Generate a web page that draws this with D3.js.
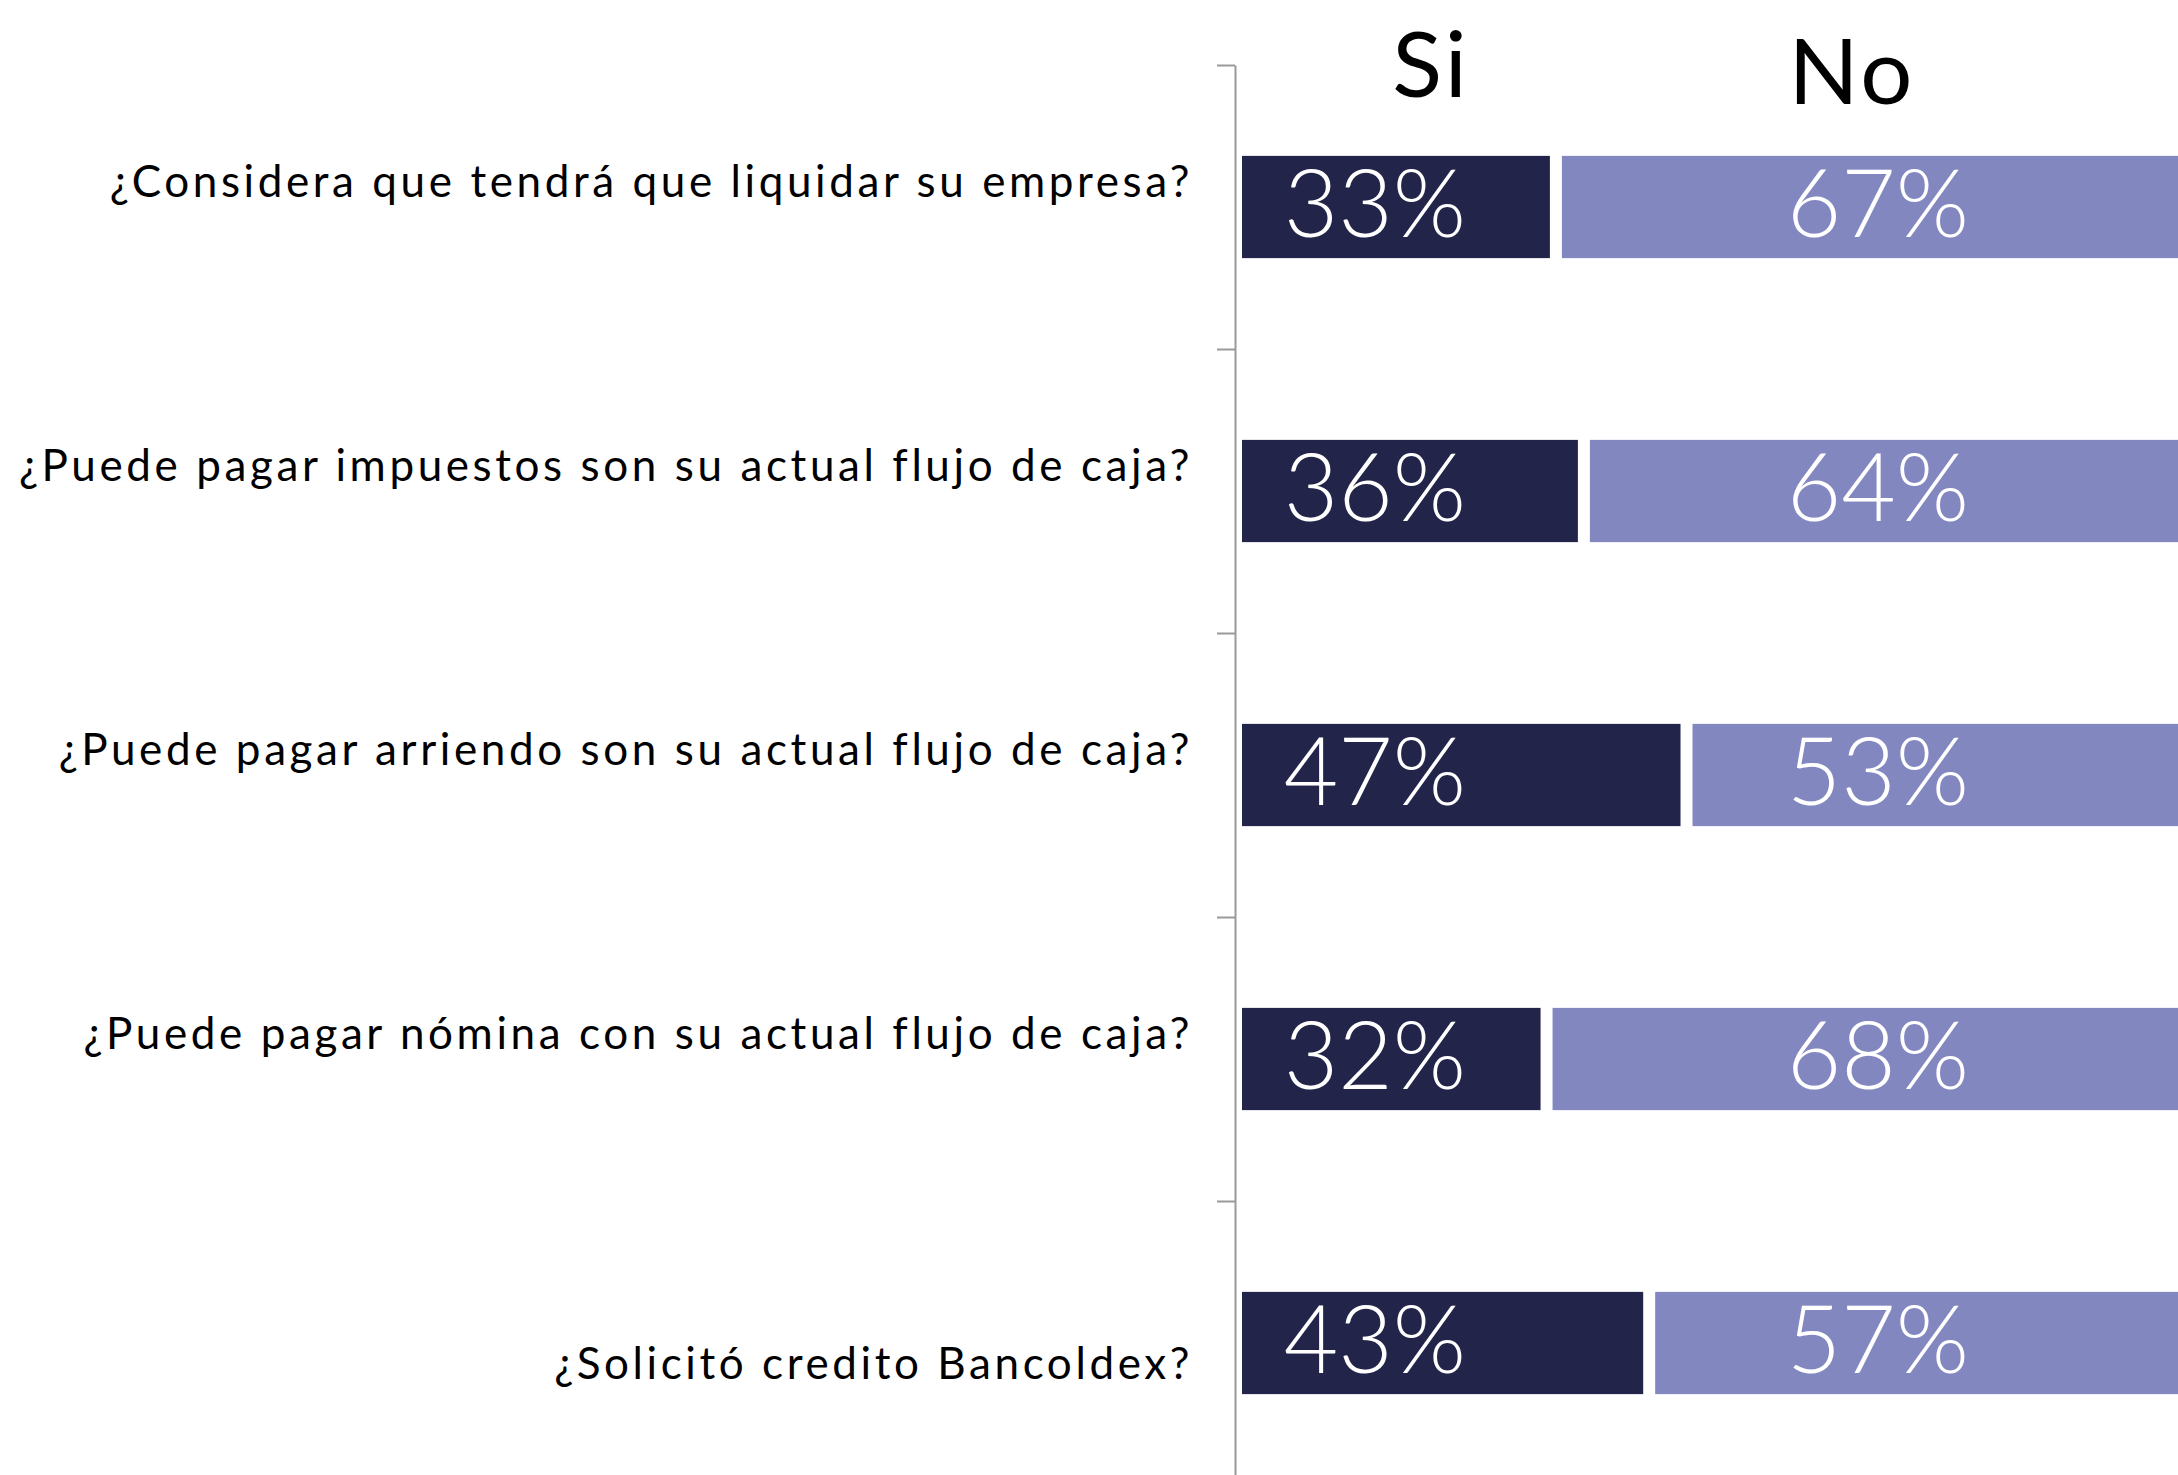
<!DOCTYPE html>
<html>
<head>
<meta charset="utf-8">
<script src="https://cdn.jsdelivr.net/npm/d3@7"></script>
<style>
  body { margin: 0; background: #fff; }
  svg { display: block; }
</style>
</head>
<body>
<svg id="chart" width="2178" height="1475"></svg>
<script>
const questions = [
  "¿Considera que tendrá que liquidar su empresa?",
  "¿Puede pagar impuestos son su actual flujo de caja?",
  "¿Puede pagar arriendo son su actual flujo de caja?",
  "¿Puede pagar nómina con su actual flujo de caja?",
  "¿Solicitó credito Bancoldex?"
];
const siValues = [33, 36, 47, 32, 43];
const noValues = [67, 64, 53, 68, 57];
const seriesNames = ["Si", "No"];

const svg = d3.select("#chart");

const colors = { si: "#222449", no: "#8387c0" };
const gap = 12;

const y = d3.scaleBand()
  .domain(questions)
  .range([65, 65 + 284 * questions.length])
  .paddingInner(0.64)
  .paddingOuter(0.32);

const yIdx = d3.scaleLinear()
  .domain([0, questions.length])
  .range([65, 65 + 284 * questions.length]);

const x = d3.scaleLinear()
  .domain([0, 100])
  .range([1242, 2175]);

// Axis with ticks at category boundaries
const axis = svg.append("g")
  .attr("transform", "translate(1235,0)")
  .call(d3.axisLeft(yIdx)
    .tickValues(d3.range(questions.length))
    .tickFormat("")
    .tickSize(18)
    .tickSizeOuter(0));
axis.select(".domain").attr("stroke", "#999").attr("stroke-width", 2);
axis.selectAll(".tick line").attr("stroke", "#999").attr("stroke-width", 2);

// Column headers
const headerX = [1431, 1852];
svg.selectAll(".header")
  .data(seriesNames)
  .enter()
  .append("text")
  .attr("class", "header")
  .attr("x", (d, i) => headerX[i])
  .attr("y", (d, i) => i === 0 ? 97 : 104)
  .attr("text-anchor", "middle")
  .attr("font-family", "Lato, sans-serif")
  .attr("font-size", "92px")
  .attr("letter-spacing", "3px")
  .attr("fill", "#000")
  .text(d => d);

// Question labels
svg.selectAll(".qlabel")
  .data(questions)
  .enter()
  .append("text")
  .attr("class", "qlabel")
  .attr("x", 1193)
  .attr("y", (d, i) => y(d) + y.bandwidth() / 2 + (i === questions.length - 1 ? 36 : -10))
  .attr("text-anchor", "end")
  .attr("font-family", "Lato, sans-serif")
  .attr("font-size", "44px")
  .attr("letter-spacing", "3.6px")
  .attr("fill", "#000")
  .text(d => d);

// Si bars
svg.selectAll(".bar-si")
  .data(questions)
  .enter()
  .append("rect")
  .attr("class", "bar-si")
  .attr("x", x(0))
  .attr("y", d => y(d))
  .attr("width", (d, i) => x(siValues[i]) - x(0))
  .attr("height", y.bandwidth())
  .attr("fill", colors.si);

// No bars
svg.selectAll(".bar-no")
  .data(questions)
  .enter()
  .append("rect")
  .attr("class", "bar-no")
  .attr("x", (d, i) => x(siValues[i]) + gap)
  .attr("y", d => y(d))
  .attr("width", (d, i) => x(siValues[i] + noValues[i]) - x(siValues[i]))
  .attr("height", y.bandwidth())
  .attr("fill", colors.no);

// Value labels
const labelX = { si: 1375, no: 1878 };
svg.selectAll(".val-si")
  .data(questions)
  .enter()
  .append("text")
  .attr("class", "val-si")
  .attr("x", labelX.si)
  .attr("y", d => y(d) + y.bandwidth() / 2 + 30)
  .attr("text-anchor", "middle")
  .attr("font-family", "Lato, sans-serif")
  .attr("font-weight", 300)
  .attr("font-size", "94px")
  .attr("fill", "#fff")
  .text((d, i) => siValues[i] + "%");

svg.selectAll(".val-no")
  .data(questions)
  .enter()
  .append("text")
  .attr("class", "val-no")
  .attr("x", labelX.no)
  .attr("y", d => y(d) + y.bandwidth() / 2 + 30)
  .attr("text-anchor", "middle")
  .attr("font-family", "Lato, sans-serif")
  .attr("font-weight", 300)
  .attr("font-size", "94px")
  .attr("fill", "#fff")
  .text((d, i) => noValues[i] + "%");
</script>
</body>
</html>
